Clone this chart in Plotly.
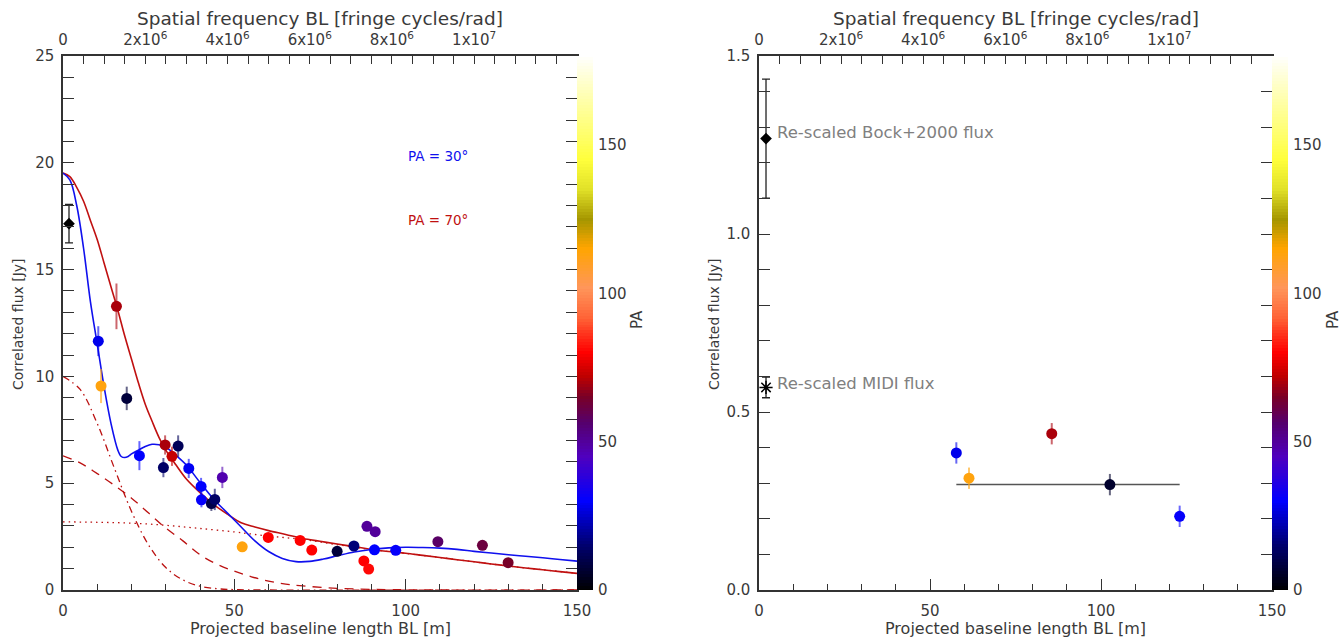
import plotly.graph_objects as go
from plotly.colors import sample_colorscale

# ---------------- data ----------------
# Left panel: correlated flux vs projected baseline
bl_left = [10.3, 11.1, 15.6, 18.6, 22.3, 29.3, 29.8, 31.8, 33.6, 36.7, 40.3, 40.4, 43.3, 44.3, 46.5,
           52.3, 59.9, 69.2, 72.6, 80.0, 84.9, 88.7, 91.1, 90.9, 87.8, 89.2, 97.1, 109.4, 122.4, 129.9]
flux_left = [11.65, 9.55, 13.28, 8.97, 6.29, 5.73, 6.79, 6.26, 6.74, 5.69, 4.85, 4.22, 4.05, 4.24, 5.27,
             2.02, 2.46, 2.32, 1.87, 1.81, 2.06, 2.98, 2.73, 1.88, 1.36, 0.98, 1.86, 2.26, 2.09, 1.28]
err_left = [0.7, 0.8, 1.07, 0.55, 0.68, 0.45, 0.45, 0.45, 0.5, 0.45, 0.4, 0.35, 0.35, 0.5, 0.5,
            0, 0, 0, 0, 0, 0, 0, 0, 0, 0, 0, 0, 0, 0, 0]
pa_left = [28, 113, 70, 8, 30, 14, 70, 73, 12, 29, 30, 31, 10, 14, 47,
           113, 80, 80, 80, 8, 16, 50, 50, 30, 80, 81, 31, 57, 62, 65]

# Total (single-dish) flux point, left panel
total_bl = [1.75]
total_flux = [17.15]
total_err = [0.9]

# Model curves
curve30_bl = [0, 2, 4, 6, 8, 10, 12, 14, 16, 17, 18, 19, 20, 22, 24, 26, 28, 30, 33, 36, 40, 44, 48, 52,
              56, 60, 64, 68, 72, 76, 80, 85, 90, 95, 100, 105, 110, 115, 120, 125, 130, 135, 140, 145, 150]
curve30_flux = [19.52, 19.2, 18.0, 16.0, 13.5, 11.5, 9.5, 7.8, 6.55, 6.25, 6.2, 6.25, 6.37, 6.55, 6.72,
                6.82, 6.8, 6.68, 6.3, 5.85, 5.03, 4.25, 3.6, 2.95, 2.3, 1.8, 1.48, 1.33, 1.34, 1.45,
                1.6, 1.78, 1.9, 1.97, 2.0, 1.99, 1.96, 1.9, 1.81, 1.73, 1.65, 1.58, 1.51, 1.43, 1.35]

curve70_bl = [0, 2, 4, 6, 8, 10, 12, 14, 16, 18, 20, 22, 24, 26, 28, 30, 33, 36, 40, 44, 48, 52, 56,
              60, 65, 70, 75, 80, 85, 90, 95, 100, 105, 110, 115, 120, 125, 130, 135, 140, 145, 150]
curve70_flux = [19.52, 19.35, 18.85, 18.2, 17.3, 16.4, 15.3, 14.2, 13.1, 11.9, 10.8, 9.7, 8.7, 7.9,
                7.15, 6.55, 5.85, 5.2, 4.56, 4.0, 3.55, 3.15, 2.95, 2.78, 2.6, 2.41, 2.28, 2.15, 2.03,
                1.9, 1.8, 1.72, 1.62, 1.52, 1.42, 1.32, 1.22, 1.12, 1.03, 0.95, 0.86, 0.78]

comp1_bl = [0, 5, 10, 15, 20, 25, 30, 35, 40, 45, 50, 60, 150]
comp1_flux = [10.0, 9.39, 7.79, 5.70, 3.68, 2.10, 1.05, 0.47, 0.18, 0.06, 0.02, 0.0, 0.0]

comp2_bl = [0, 5, 10, 15, 20, 25, 30, 35, 40, 45, 50, 55, 60, 65, 70, 80, 90, 100, 110, 150]
comp2_flux = [6.28, 5.95, 5.45, 4.9, 4.3, 3.6, 2.9, 2.3, 1.65, 1.2, 0.88, 0.62, 0.42, 0.28, 0.19,
              0.08, 0.03, 0.01, 0.0, 0.0]

comp3_bl = [0, 10, 20, 30, 40, 50, 55, 60, 65, 70, 75, 80, 85, 90, 100, 110, 120, 130, 140, 150]
comp3_flux = [3.19, 3.17, 3.13, 3.03, 2.88, 2.72, 2.62, 2.52, 2.45, 2.36, 2.25, 2.12, 2.01, 1.89,
              1.71, 1.52, 1.32, 1.12, 0.95, 0.78]

# Right panel
bl_right = [57.7, 61.4, 85.6, 102.6, 123.0]
flux_right = [0.385, 0.314, 0.439, 0.296, 0.207]
err_right = [0.03, 0.03, 0.03, 0.03, 0.03]
pa_right = [28, 113, 70, 6, 31]

bock_bl = [2.05]
bock_flux = [1.268]
bock_err = [0.167]
midi_bl = [2.05]
midi_flux = [0.569]
midi_err = [0.029]
range_bl = [57.7, 123.0]
range_flux = [0.296, 0.296]

xticks_freq = [0, 2e6, 4e6, 6e6, 8e6, 1e7]
xticklabels_freq = ["0", "2x10<sup>6</sup>", "4x10<sup>6</sup>", "6x10<sup>6</sup>",
                    "8x10<sup>6</sup>", "1x10<sup>7</sup>"]
wavelength = 12e-6  # m

# colour-bar scale (PA, degrees)
pa_levels = list(range(0, 181))
pa_ticks = [0, 50, 100, 150]

PA_SCALE = [
    [0.0, "rgb(0,0,0)"],
    [15 / 180, "rgb(0,0,110)"],
    [30 / 180, "rgb(0,0,255)"],
    [45 / 180, "rgb(80,0,190)"],
    [56 / 180, "rgb(85,0,110)"],
    [65 / 180, "rgb(120,0,40)"],
    [72 / 180, "rgb(190,0,0)"],
    [80 / 180, "rgb(255,0,0)"],
    [92 / 180, "rgb(255,100,55)"],
    [102 / 180, "rgb(255,150,90)"],
    [115 / 180, "rgb(255,165,0)"],
    [125 / 180, "rgb(165,150,0)"],
    [135 / 180, "rgb(225,225,40)"],
    [145 / 180, "rgb(255,255,60)"],
    [165 / 180, "rgb(255,255,170)"],
    [1.0, "rgb(255,255,255)"],
]

FONT = "DejaVu Sans"
TXT = "#3a3a3a"
AX = "#333333"

W, H = 1341, 637
L1, R1 = 63, 577
L2, R2 = 759, 1272
CBW = 16
TOP, BOT = 56, 590


def fx(p):
    return p / W


def fy(p):
    return 1 - p / H


def rgba(c, a):
    return c.replace("rgb(", "rgba(").replace(")", f",{a})")


fig = go.Figure()

# ---------- left panel curves ----------
darkred = "#bb1111"
fig.add_trace(go.Scatter(x=comp1_bl, y=comp1_flux, mode="lines", line=dict(color=darkred, width=1.3, dash="7px,4px,1.5px,4px", shape="spline"), xaxis="x", yaxis="y", showlegend=False))
fig.add_trace(go.Scatter(x=comp2_bl, y=comp2_flux, mode="lines", line=dict(color=darkred, width=1.3, dash="9px,7px", shape="spline"), xaxis="x", yaxis="y", showlegend=False))
fig.add_trace(go.Scatter(x=comp3_bl, y=comp3_flux, mode="lines", line=dict(color=darkred, width=1.3, dash="1.5px,4px", shape="spline"), xaxis="x", yaxis="y", showlegend=False))
fig.add_trace(go.Scatter(x=curve70_bl, y=curve70_flux, mode="lines", line=dict(color="#c01010", width=1.6, shape="spline"), xaxis="x", yaxis="y", showlegend=False))
fig.add_trace(go.Scatter(x=curve30_bl, y=curve30_flux, mode="lines", line=dict(color="#1010ee", width=1.6, shape="spline"), xaxis="x", yaxis="y", showlegend=False))

# error bars (colour coded)
cols_left = sample_colorscale(PA_SCALE, [p / 180 for p in pa_left])
for xi, yi, ei, ci in zip(bl_left, flux_left, err_left, cols_left):
    if ei > 0:
        fig.add_trace(go.Scatter(x=[xi], y=[yi], mode="markers", marker=dict(size=2, color="rgba(0,0,0,0)"),
                                 error_y=dict(type="data", array=[ei], color=rgba(ci, 0.6), thickness=2, width=0),
                                 xaxis="x", yaxis="y", showlegend=False, hoverinfo="skip"))

fig.add_trace(go.Scatter(x=bl_left, y=flux_left, mode="markers",
                         marker=dict(size=11, color=pa_left, coloraxis="coloraxis", line=dict(width=0)),
                         xaxis="x", yaxis="y", showlegend=False))

fig.add_trace(go.Scatter(x=total_bl, y=total_flux, mode="markers",
                         marker=dict(symbol="diamond", size=9, color="black"),
                         error_y=dict(type="data", array=total_err, color="#222222", thickness=1.3, width=4),
                         xaxis="x", yaxis="y", showlegend=False))

# ---------- right panel ----------
fig.add_trace(go.Scatter(x=range_bl, y=range_flux, mode="lines", line=dict(color="#555555", width=1.5),
                         xaxis="x2", yaxis="y2", showlegend=False))
cols_right = sample_colorscale(PA_SCALE, [p / 180 for p in pa_right])
for xi, yi, ei, ci in zip(bl_right, flux_right, err_right, cols_right):
    fig.add_trace(go.Scatter(x=[xi], y=[yi], mode="markers", marker=dict(size=2, color="rgba(0,0,0,0)"),
                             error_y=dict(type="data", array=[ei], color=rgba(ci, 0.6), thickness=2, width=0),
                             xaxis="x2", yaxis="y2", showlegend=False, hoverinfo="skip"))
fig.add_trace(go.Scatter(x=bl_right, y=flux_right, mode="markers",
                         marker=dict(size=11, color=pa_right, coloraxis="coloraxis", line=dict(width=0)),
                         xaxis="x2", yaxis="y2", showlegend=False))
fig.add_trace(go.Scatter(x=bock_bl, y=bock_flux, mode="markers",
                         marker=dict(symbol="diamond", size=9, color="black"),
                         error_y=dict(type="data", array=bock_err, color="#222222", thickness=1.3, width=4),
                         xaxis="x2", yaxis="y2", showlegend=False))
fig.add_trace(go.Scatter(x=midi_bl, y=midi_flux, mode="markers",
                         marker=dict(symbol="asterisk-open", size=11, color="black", line=dict(width=1.5, color="black")),
                         error_y=dict(type="data", array=midi_err, color="#222222", thickness=1.3, width=4),
                         xaxis="x2", yaxis="y2", showlegend=False))

# dummy traces to instantiate top axes
fig.add_trace(go.Scatter(x=[0], y=[0], mode="markers", marker=dict(color="rgba(0,0,0,0)"), xaxis="x3", yaxis="y", showlegend=False, hoverinfo="skip"))
fig.add_trace(go.Scatter(x=[0], y=[0], mode="markers", marker=dict(color="rgba(0,0,0,0)"), xaxis="x4", yaxis="y2", showlegend=False, hoverinfo="skip"))

# colour bars drawn as heat-map strips on their own axes
for xa, ya in [("x5", "y5"), ("x6", "y6")]:
    fig.add_trace(go.Heatmap(x=[0], y=pa_levels, z=[[v] for v in pa_levels], coloraxis="coloraxis",
                             xaxis=xa, yaxis=ya, hoverinfo="skip"))

tickfont = dict(family=FONT, size=15, color=TXT)

common_x = dict(showline=True, linecolor=AX, linewidth=1.5, ticks="inside", ticklen=11, tickwidth=1,
                tickcolor=AX, showgrid=False, zeroline=False, tickfont=tickfont, mirror=True,
                range=[0, 150], tickvals=[0, 50, 100, 150], ticklabelstandoff=6,
                minor=dict(ticks="inside", ticklen=6, dtick=10, tick0=0, tickcolor=AX, showgrid=False))
common_top = dict(side="top", showline=True, linecolor=AX, linewidth=1.5, ticks="inside",
                  ticklen=8, tickwidth=1, tickcolor=AX, showgrid=False, zeroline=False, tickfont=tickfont,
                  range=[0, 150 / wavelength], tickvals=xticks_freq, ticktext=xticklabels_freq,
                  ticklabelstandoff=3,
                  minor=dict(ticks="inside", ticklen=8, dtick=5e5, tick0=0, tickcolor=AX, showgrid=False))
common_y = dict(showline=True, linecolor=AX, linewidth=1.5, ticks="inside", ticklen=11, tickwidth=1,
                tickcolor=AX, showgrid=False, zeroline=False, tickfont=tickfont, mirror="allticks",
                ticklabelstandoff=4)
cb_x = dict(showline=False, showticklabels=False, ticks="", showgrid=False, zeroline=False, range=[-0.5, 0.5])
cb_y = dict(side="right", showline=False, ticks="", showgrid=False, zeroline=False, range=[0, 180],
            tickvals=pa_ticks, tickfont=tickfont, ticklabelstandoff=4)

fig.update_layout(
    width=W, height=H, margin=dict(l=0, r=0, t=0, b=0, autoexpand=False),
    paper_bgcolor="white", plot_bgcolor="white",
    font=dict(family=FONT, color=TXT),
    xaxis=dict(common_x, domain=[fx(L1), fx(R1)], anchor="y"),
    yaxis=dict(common_y, domain=[fy(BOT), fy(TOP)], anchor="x", range=[0, 25], dtick=5,
               minor=dict(ticks="inside", ticklen=5, dtick=1, tickcolor=AX, showgrid=False)),
    xaxis2=dict(common_x, domain=[fx(L2), fx(R2)], anchor="y2"),
    yaxis2=dict(common_y, domain=[fy(BOT), fy(TOP)], anchor="x2", range=[0, 1.5], dtick=0.5, tickformat=".1f",
                minor=dict(ticks="inside", ticklen=5, dtick=0.1, tickcolor=AX, showgrid=False)),
    xaxis3=dict(common_top, overlaying="x", anchor="y", domain=[fx(L1), fx(R1)]),
    xaxis4=dict(common_top, overlaying="x2", anchor="y2", domain=[fx(L2), fx(R2)]),
    xaxis5=dict(cb_x, domain=[fx(R1), fx(R1 + CBW)], anchor="y5"),
    yaxis5=dict(cb_y, domain=[fy(BOT), fy(TOP)], anchor="x5"),
    xaxis6=dict(cb_x, domain=[fx(R2), fx(R2 + CBW)], anchor="y6"),
    yaxis6=dict(cb_y, domain=[fy(BOT), fy(TOP)], anchor="x6"),
    coloraxis=dict(colorscale=PA_SCALE, cmin=0, cmax=180, showscale=False),
)

ann = []
for L, R, pa_x in [(L1, R1, 637), (L2, R2, 1333)]:
    cx = fx((L + R) / 2)
    ann.append(dict(text="Projected baseline length BL [m]", x=cx, y=fy(628), xref="paper", yref="paper",
                    showarrow=False, font=dict(family=FONT, size=16, color=TXT), xanchor="center", yanchor="middle"))
    ann.append(dict(text="Spatial frequency BL [fringe cycles/rad]", x=cx, y=fy(19), xref="paper", yref="paper",
                    showarrow=False, font=dict(family=FONT, size=18.5, color=TXT), xanchor="center", yanchor="middle"))
    ann.append(dict(text="Correlated flux [Jy]", x=fx(L - 45), y=fy(324), xref="paper", yref="paper",
                    showarrow=False, textangle=-90, font=dict(family=FONT, size=14, color=TXT),
                    xanchor="center", yanchor="middle"))
    ann.append(dict(text="PA", x=fx(pa_x), y=fy(320), xref="paper", yref="paper",
                    showarrow=False, textangle=-90, font=dict(family=FONT, size=15, color=TXT),
                    xanchor="center", yanchor="middle"))

ann.append(dict(text="PA = 30°", x=100, y=20.3, xref="x", yref="y", showarrow=False, xanchor="left",
                font=dict(family=FONT, size=13.5, color="#1010ee")))
ann.append(dict(text="PA = 70°", x=100, y=17.3, xref="x", yref="y", showarrow=False, xanchor="left",
                font=dict(family=FONT, size=13.5, color="#c01010")))
ann.append(dict(text="Re-scaled Bock+2000 flux", x=4.8, y=1.284, xref="x2", yref="y2", showarrow=False,
                xanchor="left", font=dict(family=FONT, size=16.5, color="#808080")))
ann.append(dict(text="Re-scaled MIDI flux", x=4.8, y=0.581, xref="x2", yref="y2", showarrow=False,
                xanchor="left", font=dict(family=FONT, size=16.5, color="#808080")))
fig.update_layout(annotations=ann)

fig.write_html("out.html", config={"displayModeBar": False},
               post_script="document.body.style.margin='0';document.body.style.overflow='hidden';")
